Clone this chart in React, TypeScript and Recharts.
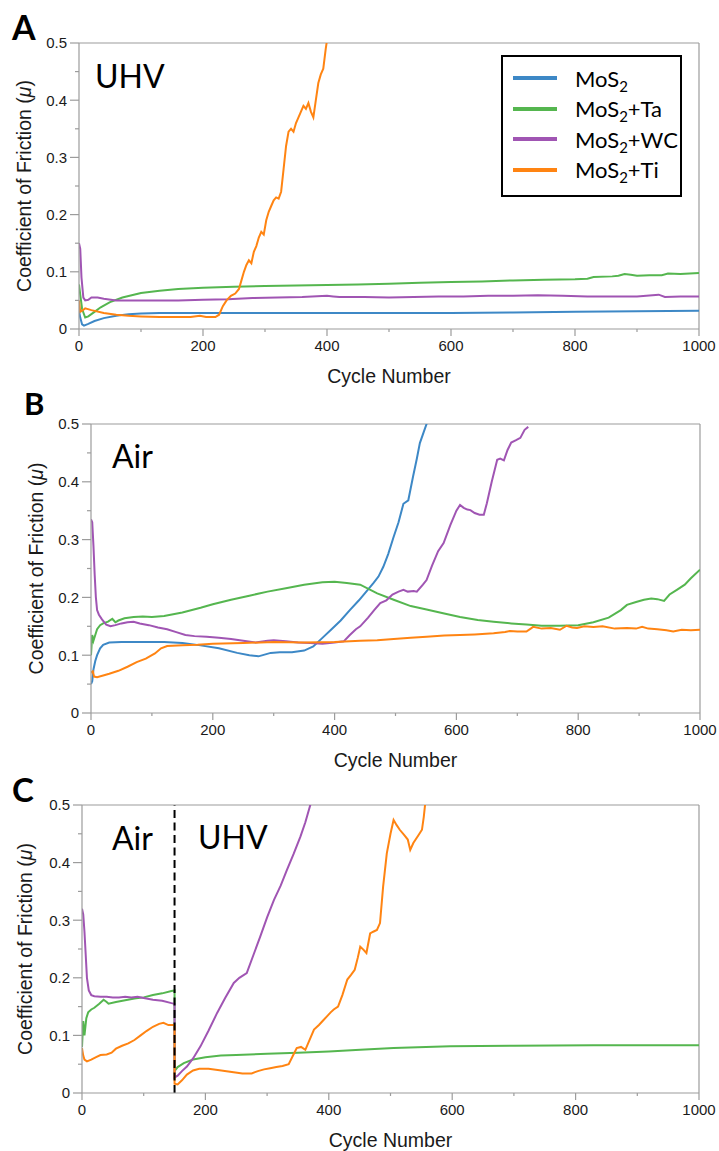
import { LineChart, Line, XAxis, YAxis, ReferenceLine, Legend } from "recharts";

const X_TICKS = [0, 100, 200, 300, 400, 500, 600, 700, 800, 900, 1000];
const Y_TICKS = [0, 0.05, 0.1, 0.15, 0.2, 0.25, 0.3, 0.35, 0.4, 0.45, 0.5];
const X_DOMAIN: [number, number] = [0, 1000];
const Y_DOMAIN: [number, number] = [0, 0.5];

const SERIES_NAMES = ["MoS2", "MoS2+Ta", "MoS2+WC", "MoS2+Ti"];
const SERIES_COLORS = ["#3d88c6", "#55b64f", "#a055b3", "#ff8412"];

// panel A (UHV) - [cycle, cof]
const A_MOS2: [number, number][] = [
  [0, 0.032], [2, 0.02], [5, 0.008], [8, 0.006], [15, 0.009], [25, 0.014], [40, 0.019],
  [60, 0.023], [80, 0.026], [100, 0.027], [130, 0.028], [200, 0.028], [300, 0.028],
  [400, 0.028], [500, 0.028], [600, 0.028], [700, 0.029], [800, 0.03], [900, 0.031], [1000, 0.032],
];
const A_TA: [number, number][] = [
  [0, 0.078], [2, 0.06], [5, 0.035], [10, 0.02], [15, 0.022], [25, 0.03], [35, 0.038], [50, 0.047],
  [70, 0.055], [100, 0.063], [130, 0.067], [160, 0.07], [200, 0.072], [250, 0.074], [300, 0.075],
  [350, 0.076], [400, 0.077], [450, 0.078], [500, 0.079], [550, 0.081], [600, 0.082], [650, 0.083],
  [700, 0.085], [750, 0.086], [800, 0.087], [820, 0.088], [830, 0.091], [860, 0.092], [870, 0.093],
  [880, 0.096], [890, 0.095], [900, 0.093], [920, 0.094], [940, 0.094], [950, 0.097], [970, 0.096],
  [985, 0.097], [1000, 0.098],
];
const A_WC: [number, number][] = [
  [0, 0.15], [2, 0.14], [4, 0.09], [7, 0.055], [10, 0.05], [15, 0.051], [20, 0.055], [30, 0.055],
  [40, 0.053], [60, 0.05], [80, 0.05], [120, 0.05], [160, 0.05], [200, 0.051], [240, 0.052],
  [280, 0.054], [320, 0.055], [360, 0.056], [400, 0.058], [410, 0.057], [420, 0.056], [460, 0.056],
  [500, 0.055], [540, 0.056], [580, 0.057], [620, 0.057], [660, 0.058], [700, 0.058], [740, 0.059],
  [780, 0.058], [820, 0.057], [860, 0.057], [900, 0.057], [925, 0.059], [935, 0.06], [945, 0.056],
  [970, 0.057], [1000, 0.057],
];
const A_TI: [number, number][] = [
  [0, 0.05], [2, 0.03], [5, 0.032], [10, 0.036], [20, 0.033], [40, 0.028], [60, 0.025], [80, 0.023],
  [100, 0.022], [130, 0.021], [160, 0.021], [180, 0.021], [195, 0.023], [205, 0.021], [220, 0.021],
  [226, 0.025], [232, 0.04], [238, 0.05], [245, 0.058], [252, 0.062], [258, 0.07], [262, 0.085],
  [266, 0.1], [270, 0.112], [274, 0.12], [278, 0.115], [282, 0.135], [286, 0.145], [290, 0.16],
  [294, 0.17], [298, 0.165], [302, 0.19], [306, 0.205], [310, 0.215], [314, 0.225], [318, 0.23],
  [322, 0.228], [326, 0.24], [330, 0.28], [334, 0.32], [338, 0.345], [342, 0.35], [346, 0.345],
  [350, 0.36], [354, 0.37], [358, 0.38], [362, 0.39], [366, 0.385], [370, 0.395], [374, 0.38],
  [378, 0.37], [382, 0.4], [386, 0.43], [390, 0.445], [394, 0.455], [398, 0.49], [402, 0.52],
];

// panel B (Air)
const B_MOS2: [number, number][] = [
  [0, 0.05], [2, 0.055], [4, 0.075], [7, 0.09], [10, 0.1], [15, 0.112], [20, 0.118], [30, 0.122],
  [50, 0.123], [80, 0.123], [120, 0.123], [150, 0.121], [180, 0.117], [210, 0.112], [240, 0.104],
  [260, 0.1], [275, 0.098], [285, 0.101], [295, 0.104], [310, 0.105], [330, 0.105], [350, 0.108],
  [365, 0.115], [380, 0.13], [395, 0.145], [410, 0.16], [425, 0.178], [440, 0.195], [452, 0.21],
  [464, 0.225], [472, 0.236], [480, 0.253], [488, 0.275], [497, 0.305], [505, 0.33], [513, 0.362],
  [521, 0.368], [529, 0.41], [535, 0.44], [540, 0.467], [546, 0.485], [551, 0.5], [556, 0.53],
];
const B_TA: [number, number][] = [
  [0, 0.1], [2, 0.135], [4, 0.125], [7, 0.135], [10, 0.145], [15, 0.152], [20, 0.155], [28, 0.158],
  [35, 0.163], [40, 0.157], [45, 0.16], [55, 0.164], [70, 0.166], [85, 0.167], [100, 0.166],
  [120, 0.168], [150, 0.174], [180, 0.182], [200, 0.188], [230, 0.196], [260, 0.203], [290, 0.21],
  [320, 0.216], [350, 0.222], [380, 0.226], [400, 0.227], [420, 0.225], [442, 0.222], [470, 0.207],
  [497, 0.196], [525, 0.185], [551, 0.179], [580, 0.172], [606, 0.166], [635, 0.161], [661, 0.158],
  [690, 0.155], [715, 0.153], [740, 0.151], [770, 0.151], [800, 0.152], [825, 0.157], [850, 0.165],
  [870, 0.178], [880, 0.187], [895, 0.192], [908, 0.196], [920, 0.198], [930, 0.197], [941, 0.194],
  [950, 0.205], [962, 0.213], [975, 0.222], [985, 0.233], [1000, 0.248],
];
const B_WC: [number, number][] = [
  [0, 0.335], [2, 0.33], [4, 0.29], [6, 0.24], [8, 0.2], [10, 0.178], [13, 0.17], [18, 0.162],
  [25, 0.153], [32, 0.15], [40, 0.152], [50, 0.155], [60, 0.157], [70, 0.158], [80, 0.155],
  [95, 0.152], [110, 0.148], [125, 0.145], [140, 0.14], [155, 0.135], [170, 0.133], [190, 0.132],
  [210, 0.13], [230, 0.128], [250, 0.125], [270, 0.122], [290, 0.125], [300, 0.126], [320, 0.124],
  [340, 0.122], [360, 0.121], [380, 0.12], [400, 0.122], [415, 0.124], [425, 0.135], [435, 0.145],
  [442, 0.15], [455, 0.165], [465, 0.178], [475, 0.19], [485, 0.195], [495, 0.205], [505, 0.21],
  [513, 0.213], [520, 0.21], [530, 0.211], [535, 0.21], [545, 0.222], [551, 0.23], [560, 0.255],
  [570, 0.28], [579, 0.294], [590, 0.325], [600, 0.35], [606, 0.36], [612, 0.355], [618, 0.352],
  [623, 0.351], [630, 0.346], [638, 0.343], [645, 0.343], [650, 0.363], [658, 0.4], [667, 0.438],
  [672, 0.44], [678, 0.437], [684, 0.455], [690, 0.468], [698, 0.472], [705, 0.476], [712, 0.49],
  [718, 0.495],
];
const B_TI: [number, number][] = [
  [0, 0.07], [3, 0.072], [5, 0.063], [10, 0.062], [20, 0.065], [30, 0.068], [45, 0.073], [60, 0.08],
  [75, 0.088], [90, 0.094], [105, 0.103], [115, 0.112], [125, 0.116], [150, 0.117], [175, 0.118],
  [200, 0.12], [250, 0.121], [300, 0.123], [350, 0.122], [400, 0.123], [442, 0.125], [470, 0.126],
  [497, 0.128], [525, 0.13], [551, 0.132], [580, 0.134], [606, 0.135], [630, 0.136], [661, 0.138],
  [680, 0.14], [688, 0.142], [700, 0.141], [715, 0.141], [722, 0.146], [726, 0.149], [740, 0.146],
  [755, 0.147], [770, 0.144], [781, 0.151], [790, 0.148], [798, 0.147], [810, 0.15], [825, 0.149],
  [840, 0.15], [860, 0.146], [880, 0.147], [895, 0.146], [905, 0.149], [915, 0.146], [930, 0.145],
  [945, 0.143], [956, 0.141], [970, 0.144], [985, 0.143], [1000, 0.144],
];

// panel C (Air -> UHV at cycle 150)
const SWITCH_CYCLE = 150;
const C_TA: [number, number][] = [
  [0, 0.08], [2, 0.125], [4, 0.1], [7, 0.13], [10, 0.14], [15, 0.145], [20, 0.148], [28, 0.155],
  [35, 0.162], [40, 0.158], [43, 0.155], [55, 0.158], [70, 0.161], [85, 0.164], [100, 0.166],
  [115, 0.17], [130, 0.173], [145, 0.177], [150, 0.178], [150, 0.038], [155, 0.045], [165, 0.052],
  [180, 0.058], [200, 0.062], [225, 0.065], [250, 0.066], [300, 0.068], [350, 0.07], [400, 0.072],
  [451, 0.075], [505, 0.078], [597, 0.081], [700, 0.082], [829, 0.083], [937, 0.083], [1000, 0.083],
];
const C_WC: [number, number][] = [
  [0, 0.32], [2, 0.31], [4, 0.28], [6, 0.24], [8, 0.2], [11, 0.178], [15, 0.17], [20, 0.168],
  [30, 0.167], [40, 0.167], [50, 0.166], [60, 0.166], [70, 0.167], [80, 0.166], [90, 0.167],
  [100, 0.165], [115, 0.162], [130, 0.16], [145, 0.156], [150, 0.155], [150, 0.027], [155, 0.03],
  [162, 0.038], [170, 0.046], [180, 0.06], [192, 0.081], [205, 0.108], [219, 0.139], [232, 0.165],
  [246, 0.191], [255, 0.2], [267, 0.208], [278, 0.24], [289, 0.272], [300, 0.305], [311, 0.335],
  [322, 0.36], [332, 0.387], [343, 0.415], [354, 0.445], [362, 0.47], [370, 0.5], [374, 0.52],
];
const C_TI: [number, number][] = [
  [0, 0.078], [2, 0.065], [4, 0.058], [8, 0.055], [15, 0.058], [22, 0.062], [30, 0.066], [40, 0.067],
  [48, 0.07], [55, 0.077], [65, 0.082], [75, 0.086], [85, 0.092], [95, 0.1], [105, 0.108],
  [115, 0.115], [125, 0.12], [132, 0.122], [140, 0.118], [148, 0.118], [150, 0.117], [150, 0.016],
  [155, 0.015], [162, 0.022], [170, 0.032], [180, 0.039], [190, 0.042], [205, 0.042], [220, 0.04],
  [240, 0.037], [260, 0.034], [275, 0.034], [285, 0.038], [295, 0.041], [305, 0.043], [315, 0.045],
  [325, 0.047], [335, 0.05], [342, 0.065], [348, 0.078], [355, 0.08], [362, 0.075], [368, 0.09],
  [376, 0.11], [384, 0.118], [390, 0.125], [397, 0.133], [403, 0.14], [408, 0.145], [415, 0.15],
  [422, 0.17], [430, 0.197], [436, 0.205], [442, 0.214], [447, 0.235], [451, 0.254], [456, 0.249],
  [461, 0.243], [467, 0.277], [472, 0.28], [478, 0.283], [483, 0.295], [488, 0.358], [494, 0.416],
  [500, 0.45], [505, 0.474], [510, 0.465], [515, 0.457], [522, 0.448], [528, 0.44], [532, 0.422],
  [537, 0.434], [545, 0.447], [551, 0.457], [554, 0.48], [556, 0.5], [558, 0.53],
];

const AXIS = "#9c9c9c";
const TEXT = "#1a1a1a";
const FONT = "'Liberation Sans', Arial, sans-serif";
const NOTE_FONT = "Lato, 'Open Sans', sans-serif";
const X_AXIS_H = 56;
const X_TICK_GAP = 11;
const Y_TICK_GAP = 12;

const XTick = (props: any) => {
  const { x, y, payload } = props;
  const major = payload.value % 200 === 0;
  const axisY = y - X_TICK_GAP;
  return (
    <g>
      <line x1={x} x2={x} y1={axisY} y2={axisY + (major ? 7 : 3)} stroke={AXIS} strokeWidth={1.2} />
      {major && (
        <text x={x} y={y} dy="0.72em" textAnchor="middle" fontSize={15} fontFamily={FONT} fill={TEXT}>
          {payload.value}
        </text>
      )}
    </g>
  );
};

const YTick = (props: any) => {
  const { x, y, payload } = props;
  const major = Math.round(payload.value * 20) % 2 === 0;
  const axisX = x + Y_TICK_GAP;
  return (
    <g>
      <line x1={axisX - (major ? 9 : 4)} x2={axisX} y1={y} y2={y} stroke={AXIS} strokeWidth={1.2} />
      {major && (
        <text x={x} y={y} dy="0.36em" textAnchor="end" fontSize={15} fontFamily={FONT} fill={TEXT}>
          {payload.value === 0 ? "0" : payload.value.toFixed(1)}
        </text>
      )}
    </g>
  );
};

const subName = (name: string) => {
  const [head, ...rest] = name.split("2");
  return (
    <>
      {head}
      <sub style={{ fontSize: "0.68em", lineHeight: 0 }}>2</sub>
      {rest.join("2")}
    </>
  );
};

const renderLegend = ({ payload }: any) => {
  const items = [...(payload || [])].sort(
    (a: any, b: any) => SERIES_NAMES.indexOf(a.value) - SERIES_NAMES.indexOf(b.value)
  );
  return (
    <div
      style={{
        boxSizing: "border-box",
        width: 181,
        height: 142,
        border: "2px solid #000",
        background: "#fff",
        padding: "6px 0 0 10px",
        fontFamily: NOTE_FONT,
        fontSize: 22,
        color: "#000",
      }}
    >
      {items.map((entry: any) => (
        <div key={entry.value} style={{ display: "flex", alignItems: "center", height: 30.5 }}>
          <span style={{ display: "inline-block", width: 44, height: 4, background: entry.color, marginRight: 18 }} />
          <span>{subName(entry.value)}</span>
        </div>
      ))}
    </div>
  );
};

type PanelProps = {
  top: number;
  marginTop: number;
  plotHeight: number;
  yAxisWidth: number;
  right: number;
  yTitleX: number;
  series: { name: string; color: string; points: [number, number][] }[];
  legend?: boolean;
  switchAt?: number;
};

function Panel({ top, marginTop, plotHeight, yAxisWidth, right, yTitleX, series, legend, switchAt }: PanelProps) {
  const height = marginTop + plotHeight + X_AXIS_H + 8;
  const cy = marginTop + plotHeight / 2;
  return (
    <div style={{ position: "absolute", left: 0, top }}>
      <LineChart width={719} height={height} margin={{ top: marginTop, right, bottom: 8, left: 0 }}>
        <XAxis
          type="number"
          dataKey="x"
          domain={X_DOMAIN}
          ticks={X_TICKS}
          interval={0}
          allowDataOverflow
          tickSize={0}
          tickMargin={X_TICK_GAP}
          tick={(p: any) => <XTick {...p} />}
          stroke={AXIS}
          strokeWidth={1.2}
          height={X_AXIS_H}
          label={{ value: "Cycle Number", position: "insideBottom", offset: 2, fill: TEXT, fontSize: 19.5, fontFamily: FONT }}
        />
        <YAxis
          type="number"
          domain={Y_DOMAIN}
          ticks={Y_TICKS}
          interval={0}
          allowDataOverflow
          tickSize={0}
          tickMargin={Y_TICK_GAP}
          tick={(p: any) => <YTick {...p} />}
          width={yAxisWidth}
          stroke={AXIS}
          strokeWidth={1.2}
          label={{
            content: () => (
              <text
                x={yTitleX}
                y={cy}
                transform={`rotate(-90 ${yTitleX} ${cy})`}
                textAnchor="middle"
                dy="0.36em"
                fontSize={19.5}
                fontFamily={FONT}
                fill={TEXT}
              >
                Coefficient of Friction (<tspan fontStyle="italic">μ</tspan>)
              </text>
            ),
          }}
        />
        <ReferenceLine y={Y_DOMAIN[1]} stroke={AXIS} strokeWidth={1.2} />
        <ReferenceLine x={X_DOMAIN[1]} stroke={AXIS} strokeWidth={1.2} />
        {series.map((s) => (
          <Line
            key={s.name}
            data={s.points.map(([x, y]) => ({ x, y }))}
            dataKey="y"
            name={s.name}
            type="linear"
            stroke={s.color}
            strokeWidth={2}
            dot={false}
            activeDot={false}
            isAnimationActive={false}
          />
        ))}
        {switchAt !== undefined && (
          <ReferenceLine x={switchAt} stroke="#000" strokeWidth={2} strokeDasharray="8 4.5" />
        )}
        {legend && (
          <Legend
            layout="vertical"
            align="center"
            verticalAlign="middle"
            content={renderLegend}
            wrapperStyle={{ position: "absolute", left: 501, top: 55, width: 181, height: 142 }}
          />
        )}
      </LineChart>
    </div>
  );
}

const mk = (idx: number[], pts: [number, number][][]) =>
  idx.map((i, k) => ({ name: SERIES_NAMES[i], color: SERIES_COLORS[i], points: pts[k] }));

export default function App() {
  return (
    <div style={{ position: "absolute", left: 0, top: 0, width: 719, height: 1151, background: "#fff", overflow: "hidden" }}>
      <Panel
        top={0}
        marginTop={43}
        plotHeight={286}
        yAxisWidth={79}
        right={20}
        yTitleX={24}
        series={mk([0, 1, 2, 3], [A_MOS2, A_TA, A_WC, A_TI])}
        legend
      />
      <Panel
        top={390}
        marginTop={34}
        plotHeight={289}
        yAxisWidth={91}
        right={19}
        yTitleX={36}
        series={mk([0, 1, 2, 3], [B_MOS2, B_TA, B_WC, B_TI])}
      />
      <Panel
        top={775}
        marginTop={30}
        plotHeight={288}
        yAxisWidth={82}
        right={20}
        yTitleX={25}
        series={mk([1, 2, 3], [C_TA, C_WC, C_TI])}
        switchAt={SWITCH_CYCLE}
      />
      <svg width={719} height={1151} style={{ position: "absolute", left: 0, top: 0, pointerEvents: "none" }}>
        <g fontFamily={NOTE_FONT} fontWeight="bold" fill="#000">
          <text x={12} y={40} fontSize={34}>A</text>
          <text x={24} y={415} fontSize={31}>B</text>
          <text x={12} y={802} fontSize={33}>C</text>
        </g>
        <g fontFamily={NOTE_FONT} fontSize={32} fill="#000">
          <text x={95} y={88}>UHV</text>
          <text x={112} y={468}>Air</text>
          <text x={112} y={850}>Air</text>
          <text x={198} y={849}>UHV</text>
        </g>
      </svg>
    </div>
  );
}
